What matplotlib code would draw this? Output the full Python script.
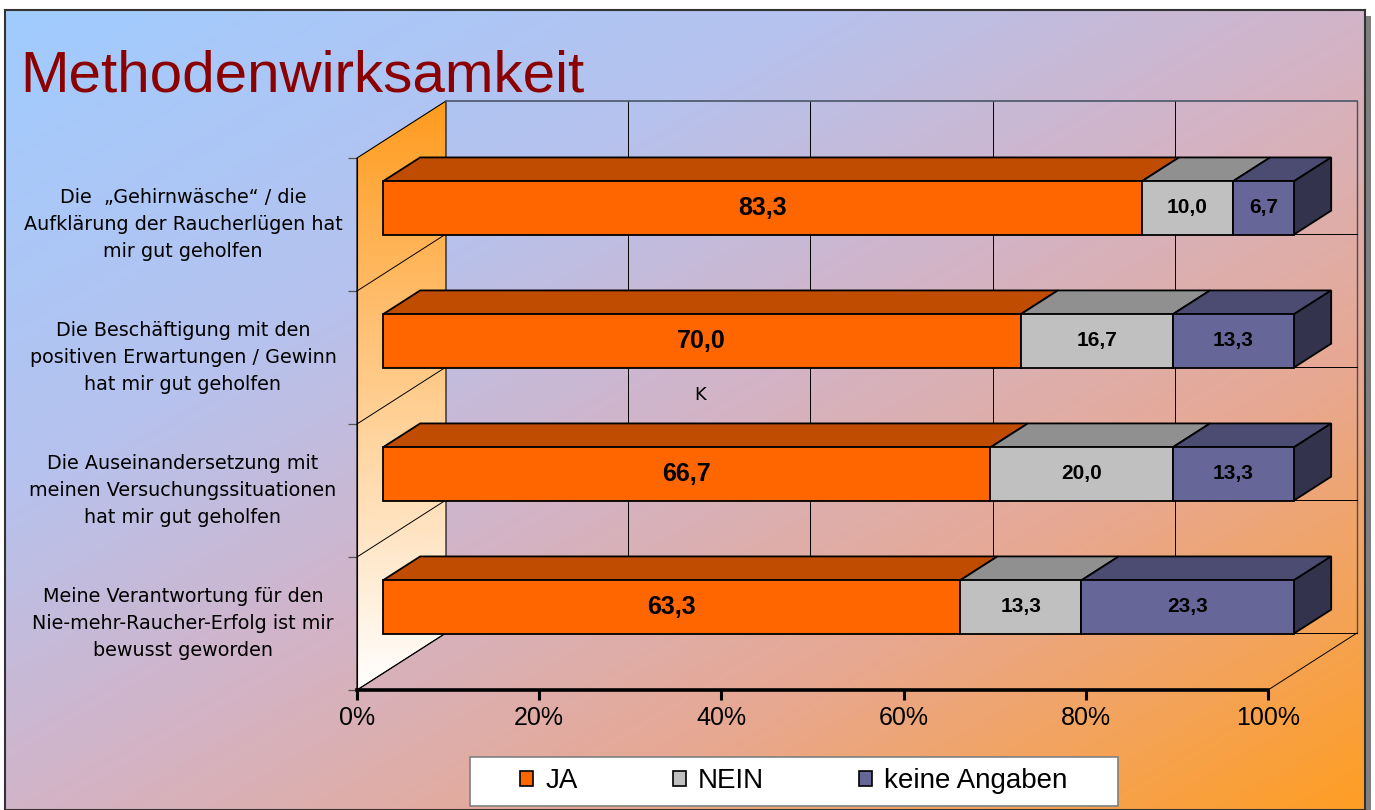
import numpy as np
import matplotlib
matplotlib.use("Agg")
import matplotlib.pyplot as plt
from matplotlib.patches import Polygon, Rectangle, Patch

# =========================
# Data
# =========================
categories = [
    "Die  \u201eGehirnw\u00e4sche\u201c / die\nAufkl\u00e4rung der Raucherl\u00fcgen hat\nmir gut geholfen",
    "Die Besch\u00e4ftigung mit den\npositiven Erwartungen / Gewinn\nhat mir gut geholfen",
    "Die Auseinandersetzung mit\nmeinen Versuchungssituationen\nhat mir gut geholfen",
    "Meine Verantwortung f\u00fcr den\nNie-mehr-Raucher-Erfolg ist mir\nbewusst geworden",
]
ja = [83.3, 70.0, 66.7, 63.3]
nein = [10.0, 16.7, 20.0, 13.3]
keine = [6.7, 13.3, 13.3, 23.3]

series_names = ["JA", "NEIN", "keine Angaben"]
front_colors = ["#FF6600", "#C0C0C0", "#666699"]
top_colors = ["#BF4C00", "#909090", "#4C4C73"]
side_colors = ["#8F3900", "#6C6C6C", "#33334D"]
label_sizes = [18, 15, 15]

xticks = [0, 20, 40, 60, 80, 100]
xticklabels = ["0%", "20%", "40%", "60%", "80%", "100%"]

# =========================
# Layout / 3D settings
# =========================
W, H = 1375, 810
px_x = 9.11          # pixels per percent
px_y = 133.0         # pixels per category band
x0_px, y0_px = 357, 690
DX = 89 / px_x       # depth offset in percent units
DY = 57 / px_y       # depth offset in category units
d_front, d_back = 0.29, 0.71
bar_h = 0.40
n = len(categories)


def P(x, d, y):
    return (x + DX * d, y + DY * d)


fig = plt.figure(figsize=(W / 100, H / 100), dpi=100)
fig.patch.set_facecolor("white")

# =========================
# Background with gradient
# =========================
shadow = Rectangle((1365 / W, 0), 6 / W, (H - 16) / H, transform=fig.transFigure,
                   facecolor="#808080", edgecolor="none", zorder=-1)
fig.add_artist(shadow)

bg = fig.add_axes([5 / W, 0, 1360 / W, (H - 10) / H])
u = np.linspace(0, 1, 400)[None, :]
v = np.linspace(0, 1, 240)[:, None]
t = 0.5 * u + 0.5 * v
stops = [0.0, 0.3, 0.5, 0.72, 1.0]
cols = np.array([(160, 204, 255), (182, 194, 238), (210, 180, 200),
                 (232, 168, 145), (255, 158, 35)]) / 255
img = np.dstack([np.interp(t, stops, cols[:, k]) for k in range(3)])
bg.imshow(img, aspect="auto", extent=(0, 1, 0, 1), interpolation="bilinear")
bg.set_xticks([])
bg.set_yticks([])
for s in bg.spines.values():
    s.set_color("#333333")
    s.set_linewidth(1.5)

# =========================
# Main axes
# =========================
ax = fig.add_axes([0, 0, 1, 1])
ax.patch.set_alpha(0)
xlim = (-x0_px / px_x, (W - x0_px) / px_x)
ylim = (-(H - y0_px) / px_y, y0_px / px_y)

# left wall with vertical gradient
wall = Polygon([P(0, 0, 0), P(0, 1, 0), P(0, 1, n), P(0, 0, n)], closed=True,
               facecolor="none", edgecolor="black", linewidth=0.8, zorder=2)
ax.add_patch(wall)
g = np.linspace(0, 1, 200)[:, None]
wall_top = np.array([255, 155, 30]) / 255
wall_img = np.dstack([np.repeat(wall_top[k] * (1 - g) + 1.0 * g, 2, axis=1) for k in range(3)])
wi = ax.imshow(wall_img, aspect="auto", extent=(0, DX, 0, n + DY), zorder=1,
               interpolation="bilinear")
wi.set_clip_path(wall)

# back wall gridlines
for xv in xticks[1:-1]:
    ax.plot(*zip(P(xv, 1, 0), P(xv, 1, n)), color="black", lw=0.7, zorder=2)
ax.plot(*zip(P(100, 1, 0), P(100, 1, n)), color="#4a4f5a", lw=1.0, zorder=2)
ax.plot(*zip(P(0, 1, n), P(100, 1, n)), color="#4a5668", lw=1.2, zorder=2)
for yv in range(0, n):
    ax.plot(*zip(P(0, 1, yv), P(100, 1, yv)), color="black", lw=0.7, zorder=2)
    ax.plot(*zip(P(0, 0, yv), P(0, 1, yv)), color="black", lw=0.7, zorder=2)
# floor right edge
ax.plot(*zip(P(100, 0, 0), P(100, 1, 0)), color="black", lw=0.7, zorder=2)

# =========================
# 3D stacked bars
# =========================
data = np.array([ja, nein, keine])
data = data / data.sum(axis=0) * 100

for i in range(n):
    yb = (n - 1 - i) + (1 - bar_h) / 2
    yt = yb + bar_h
    left = 0.0
    for k in range(len(series_names)):
        right = left + data[k, i]
        front = [P(left, d_front, yb), P(right, d_front, yb),
                 P(right, d_front, yt), P(left, d_front, yt)]
        top = [P(left, d_front, yt), P(right, d_front, yt),
               P(right, d_back, yt), P(left, d_back, yt)]
        ax.add_patch(Polygon(top, closed=True, facecolor=top_colors[k],
                             edgecolor="black", lw=1.3, zorder=4))
        ax.add_patch(Polygon(front, closed=True, facecolor=front_colors[k],
                             edgecolor="black", lw=1.3, zorder=5))
        if k == len(series_names) - 1:
            side = [P(right, d_front, yb), P(right, d_back, yb),
                    P(right, d_back, yt), P(right, d_front, yt)]
            ax.add_patch(Polygon(side, closed=True, facecolor=side_colors[k],
                                 edgecolor="black", lw=1.3, zorder=4))
        cx, cy = P((left + right) / 2, d_front, (yb + yt) / 2)
        ax.text(cx, cy, f"{[ja, nein, keine][k][i]:.1f}".replace(".", ","),
                ha="center", va="center", fontsize=label_sizes[k],
                fontweight="bold", family="Liberation Sans", zorder=6)
        left = right

    # category label
    ax.text(-19.1, n - 0.5 - i, categories[i], ha="center", va="center",
            multialignment="center", fontsize=13.8, family="DejaVu Sans",
            linespacing=1.52, zorder=6)

# stray text from the original slide
ax.text((700 - x0_px) / px_x, (y0_px - 395) / px_y, "K", ha="center", va="center",
        fontsize=13, family="DejaVu Sans", zorder=6)

# =========================
# Axes / ticks
# =========================
ax.set_xlim(*xlim)
ax.set_ylim(*ylim)
ax.spines["top"].set_visible(False)
ax.spines["right"].set_visible(False)
ax.spines["bottom"].set_position(("data", 0))
ax.spines["bottom"].set_bounds(0, 100)
ax.spines["bottom"].set_linewidth(2.6)
ax.spines["bottom"].set_zorder(7)
ax.spines["left"].set_position(("data", 0))
ax.spines["left"].set_bounds(0, n)
ax.spines["left"].set_linewidth(0.8)
ax.set_xticks(xticks)
ax.set_xticklabels(xticklabels, family="Liberation Sans")
ax.tick_params(axis="x", direction="out", length=7.5, width=2.2, labelsize=18, pad=4)
ax.set_yticks(range(0, n + 1))
ax.set_yticklabels([])
ax.tick_params(axis="y", direction="out", length=6.5, width=0.9, color="#555555")

# =========================
# Title
# =========================
fig.text(20 / W, 1 - 91 / H, "Methodenwirksamkeit", fontsize=42, color="#8B0000",
         family="Liberation Sans", va="baseline", ha="left")

# =========================
# Legend
# =========================
box = Rectangle((470 / W, 1 - 806 / H), 648 / W, 49 / H, transform=fig.transFigure,
                facecolor="white", edgecolor="#808080", lw=1.2, zorder=3)
fig.add_artist(box)
handles = [Patch(facecolor=c, edgecolor="black", lw=1.2) for c in front_colors]
fig.legend(handles, series_names, ncol=3, loc="center",
           bbox_to_anchor=((470 + 1118) / 2 / W, 1 - 781.5 / H), frameon=False,
           prop={"family": "Liberation Sans", "size": 20},
           handlelength=0.47, handleheight=0.47, handletextpad=0.45,
           columnspacing=3.4)

fig.savefig("out.png", dpi=100)
